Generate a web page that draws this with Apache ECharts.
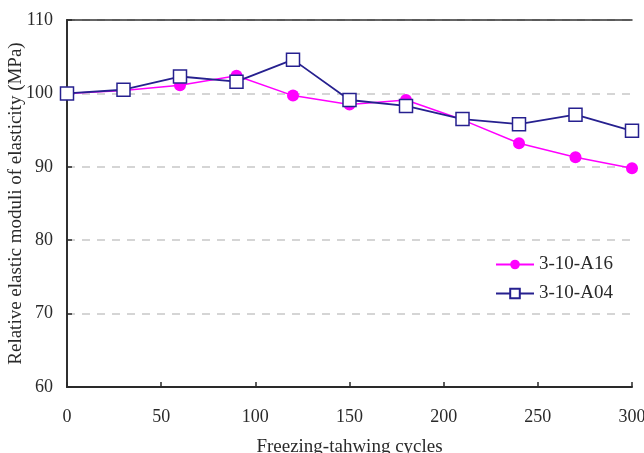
<!DOCTYPE html>
<html>
<head>
<meta charset="utf-8">
<script src="https://cdn.jsdelivr.net/npm/echarts@6/dist/echarts.min.js"></script>
<style>
  html, body { margin: 0; padding: 0; background: #fff; }
  #chart { width: 644px; height: 453px; }
</style>
</head>
<body>
<div id="chart"></div>
<script>
// freeze-thaw cycles
const cycles = [0, 30, 60, 90, 120, 150, 180, 210, 240, 270, 300];
const a16 = [100, 100.4, 101.1, 102.4, 99.7, 98.5, 99.1, 96.4, 93.2, 91.3, 89.8];
const a04 = [100, 100.5, 102.3, 101.6, 104.6, 99.1, 98.3, 96.5, 95.8, 97.1, 94.9];

const font = "'Liberation Serif', 'DejaVu Serif', serif";
const ink = '#2a2a2a';

const chart = echarts.init(document.getElementById('chart'));

const pairs = (ys) => cycles.map((c, i) => [c, ys[i]]);

chart.setOption({
  animation: false,
  textStyle: { fontFamily: font },
  grid: { left: 67, right: 12, top: 20, bottom: 66, outerBoundsMode: 'none', containLabel: false },
  legend: {
    left: 490,
    top: 250,
    orient: 'vertical',
    itemGap: 10,
    itemWidth: 38,
    itemHeight: 12,
    textStyle: { fontFamily: font, fontSize: 19, color: ink },
    data: ['3-10-A16', '3-10-A04']
  },
  xAxis: [
    {
      type: 'value', min: 0, max: 300, interval: 50,
      name: 'Freezing-tahwing cycles',
      nameLocation: 'middle', nameGap: 51, nameMoveOverlap: false,
      nameTextStyle: { fontFamily: font, fontSize: 19, color: ink },
      axisLine: { lineStyle: { color: ink, width: 2 } },
      axisTick: { inside: true, length: 5, lineStyle: { color: ink, width: 1.5 } },
      axisLabel: { fontFamily: font, fontSize: 18, color: ink, margin: 21 },
      splitLine: { show: false }
    },
    {
      type: 'value', min: 0, max: 300, position: 'top',
      axisLine: { lineStyle: { color: '#333', width: 1.5 } },
      axisTick: { show: false }, axisLabel: { show: false }, splitLine: { show: false }
    }
  ],
  yAxis: [
    {
      type: 'value', min: 60, max: 110, interval: 10,
      name: 'Relative elastic moduli of elasticity (MPa)',
      nameLocation: 'middle', nameGap: 41, nameMoveOverlap: false,
      nameTextStyle: { fontFamily: font, fontSize: 19, color: ink },
      axisLine: { show: true, lineStyle: { color: ink, width: 2 } },
      axisTick: { show: true, inside: true, length: 5, lineStyle: { color: ink, width: 1.5 } },
      axisLabel: { fontFamily: font, fontSize: 18, color: ink, margin: 14 },
      splitLine: { show: true, lineStyle: { color: '#c8c8c8', type: [8, 7], width: 1.5 } }
    },
    {
      type: 'value', min: 60, max: 110, position: 'right',
      axisLine: { show: true, lineStyle: { color: '#333', width: 1.5 } },
      axisTick: { show: false }, axisLabel: { show: false }, splitLine: { show: false }
    }
  ],
  series: [
    {
      name: '3-10-A16',
      type: 'line',
      data: pairs(a16),
      symbol: 'circle',
      symbolSize: 12,
      itemStyle: { color: '#ff00ff' },
      lineStyle: { color: '#ff00ff', width: 1.5 },
      z: 2
    },
    {
      name: '3-10-A04',
      type: 'line',
      data: pairs(a04),
      symbol: 'rect',
      symbolSize: 13,
      showAllSymbol: true,
      itemStyle: { color: '#fff', borderColor: '#26208f', borderWidth: 1.5 },
      lineStyle: { color: '#26208f', width: 1.8 },
      z: 3
    }
  ]
});
</script>
</body>
</html>
